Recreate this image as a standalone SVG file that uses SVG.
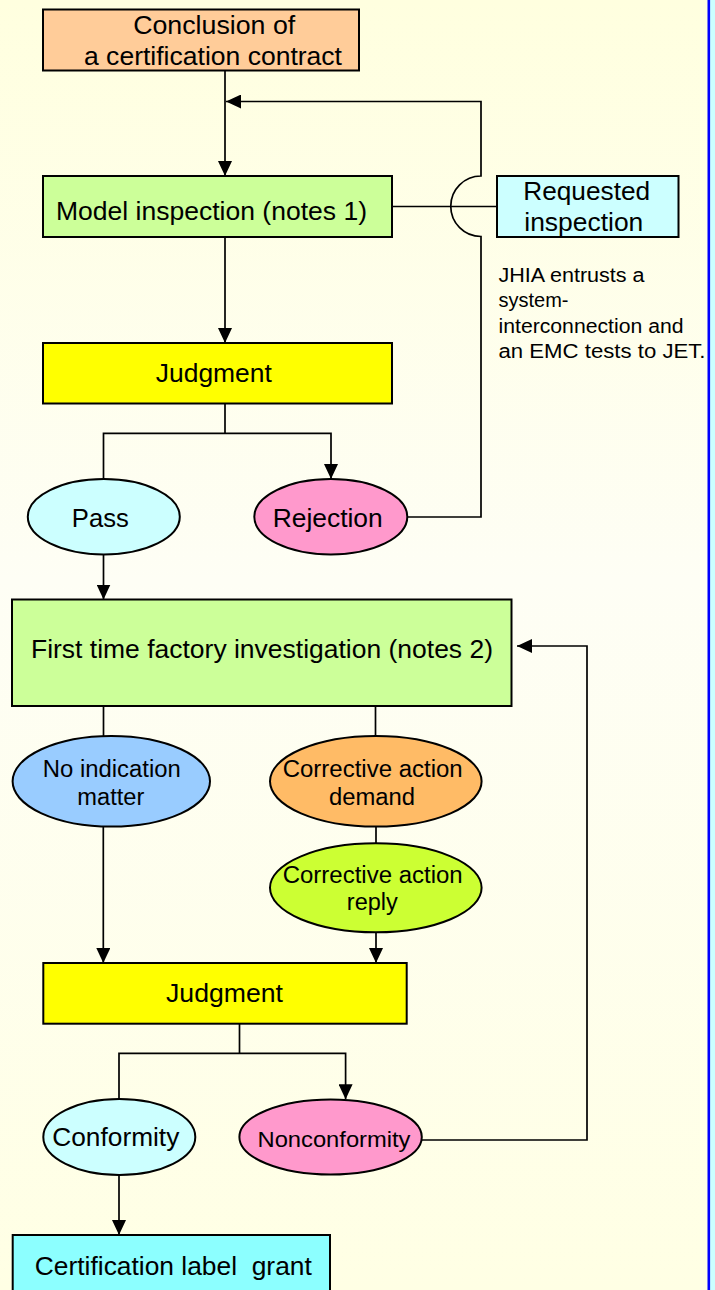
<svg xmlns="http://www.w3.org/2000/svg" width="715" height="1290" viewBox="0 0 715 1290">
<defs>
<linearGradient id="bg" x1="0" y1="0" x2="0" y2="1">
<stop offset="0" stop-color="#FFFFDF"/>
<stop offset="0.45" stop-color="#FEFEF5"/>
<stop offset="1" stop-color="#FFFFE4"/>
</linearGradient>
<marker id="arr" markerUnits="userSpaceOnUse" markerWidth="15" markerHeight="14" refX="15" refY="7" orient="auto">
<path d="M0,0 L15,7 L0,14 z" fill="#000"/>
</marker>
<style>
.n{stroke:#000;stroke-width:2}
.t{font-family:"Liberation Sans",Arial,sans-serif;font-size:25px;fill:#000;text-anchor:middle}
.e{font-size:23.5px}
.s{font-family:"Liberation Sans",Arial,sans-serif;font-size:19.5px;fill:#000}
.c{fill:none;stroke:#000;stroke-width:1.7}
.a{marker-end:url(#arr)}
</style>
</defs>
<rect x="0" y="0" width="715" height="1290" fill="url(#bg)"/>
<rect x="710" y="0" width="5" height="1290" fill="#CCFFFF"/>
<rect x="707.5" y="0" width="2.6" height="1290" fill="#0000FF"/>

<g id="connectors">
<path class="c a" d="M225 70.5 V176"/>
<path class="c a" d="M407.5 517 H481 V236.5 A30 30 0 0 1 481 176 V101.5 H226"/>
<path class="c" d="M392 206.5 H497"/>
<path class="c a" d="M225 237 V343"/>
<path class="c" d="M225 403.5 V433.3"/>
<path class="c a" d="M103.5 479 V433.3 H331 V479"/>
<path class="c a" d="M103.5 554.5 V599.5"/>
<path class="c" d="M103.5 706 V736"/>
<path class="c" d="M375.5 706 V736"/>
<path class="c" d="M376 826.7 V843.3"/>
<path class="c a" d="M376 932.3 V963"/>
<path class="c a" d="M103.3 826.7 V963"/>
<path class="c" d="M239.5 1023.7 V1053.3"/>
<path class="c a" d="M119 1099 V1053.3 H345.6 V1099.3"/>
<path class="c a" d="M421.8 1140 H587 V646 H517"/>
<path class="c a" d="M119 1175 V1235"/>
</g>

<g id="n-contract">
<rect class="n" x="43" y="9.5" width="316" height="61" fill="#FFCC99"/>
<text class="t" x="214.2" y="33.5" textLength="162" lengthAdjust="spacingAndGlyphs">Conclusion of</text>
<text class="t" x="213" y="65" textLength="258" lengthAdjust="spacingAndGlyphs">a certification contract</text>
</g>

<g id="n-model">
<rect class="n" x="43" y="176" width="349" height="61" fill="#CCFF99"/>
<text class="t" x="211.5" y="219.5" textLength="311" lengthAdjust="spacingAndGlyphs">Model inspection (notes 1)</text>
</g>

<g id="n-requested">
<rect class="n" x="497" y="176" width="181.5" height="61" fill="#CCFFFF"/>
<text class="t" x="586.7" y="200" textLength="127" lengthAdjust="spacingAndGlyphs">Requested</text>
<text class="t" x="583.8" y="231" textLength="119" lengthAdjust="spacingAndGlyphs">inspection</text>
</g>

<g id="n-note">
<text class="s" x="498.5" y="281.5" textLength="146" lengthAdjust="spacingAndGlyphs">JHIA entrusts a</text>
<text class="s" x="498.5" y="307" textLength="70" lengthAdjust="spacingAndGlyphs">system-</text>
<text class="s" x="498.5" y="332.5" textLength="185" lengthAdjust="spacingAndGlyphs">interconnection and</text>
<text class="s" x="498.5" y="358" textLength="207" lengthAdjust="spacingAndGlyphs">an EMC tests to JET.</text>
</g>

<g id="n-judgment1">
<rect class="n" x="43" y="343" width="349" height="60.5" fill="#FFFF00"/>
<text class="t" x="213.8" y="381.7" textLength="116" lengthAdjust="spacingAndGlyphs">Judgment</text>
</g>

<g id="n-pass">
<ellipse class="n" cx="103.8" cy="516.7" rx="76" ry="37.7" fill="#CCFFFF"/>
<text class="t" x="100.3" y="526.5" textLength="57" lengthAdjust="spacingAndGlyphs">Pass</text>
</g>

<g id="n-rejection">
<ellipse class="n" cx="330.8" cy="516.7" rx="76.5" ry="37.7" fill="#FF99CC"/>
<text class="t" x="327.7" y="526.5" textLength="110" lengthAdjust="spacingAndGlyphs">Rejection</text>
</g>

<g id="n-factory">
<rect class="n" x="12" y="599.5" width="499.5" height="106.5" fill="#CCFF99"/>
<text class="t" x="262" y="658" textLength="462" lengthAdjust="spacingAndGlyphs">First time factory investigation (notes 2)</text>
</g>

<g id="n-noindication">
<ellipse class="n" cx="111.3" cy="781.3" rx="98.7" ry="45.3" fill="#99CCFF"/>
<text class="t e" x="111.8" y="776.7" textLength="138" lengthAdjust="spacingAndGlyphs">No indication</text>
<text class="t e" x="110.8" y="805" textLength="67" lengthAdjust="spacingAndGlyphs">matter</text>
</g>

<g id="n-demand">
<ellipse class="n" cx="375.8" cy="781.3" rx="105.8" ry="45.3" fill="#FFBB66"/>
<text class="t e" x="372.7" y="776.7" textLength="180" lengthAdjust="spacingAndGlyphs">Corrective action</text>
<text class="t e" x="372" y="805" textLength="86" lengthAdjust="spacingAndGlyphs">demand</text>
</g>

<g id="n-reply">
<ellipse class="n" cx="375.8" cy="887.8" rx="105.8" ry="44.5" fill="#CCFF33"/>
<text class="t e" x="372.7" y="882.7" textLength="180" lengthAdjust="spacingAndGlyphs">Corrective action</text>
<text class="t e" x="372.3" y="910" textLength="51" lengthAdjust="spacingAndGlyphs">reply</text>
</g>

<g id="n-judgment2">
<rect class="n" x="43.3" y="963" width="363.4" height="60.7" fill="#FFFF00"/>
<text class="t" x="224.5" y="1002" textLength="117" lengthAdjust="spacingAndGlyphs">Judgment</text>
</g>

<g id="n-conformity">
<ellipse class="n" cx="119.3" cy="1137" rx="76" ry="38" fill="#CCFFFF"/>
<text class="t" x="115.8" y="1146" textLength="127" lengthAdjust="spacingAndGlyphs">Conformity</text>
</g>

<g id="n-nonconformity">
<ellipse class="n" cx="330.6" cy="1137" rx="91.2" ry="37.5" fill="#FF99CC"/>
<text class="t" style="font-size:22px" x="334" y="1146.5" textLength="153" lengthAdjust="spacingAndGlyphs">Nonconformity</text>
</g>

<g id="n-label">
<rect class="n" x="12.7" y="1235" width="317.3" height="70" fill="#8CFFFF"/>
<text class="t" x="173.3" y="1275" xml:space="preserve" textLength="277" lengthAdjust="spacingAndGlyphs">Certification label  grant</text>
</g>
</svg>
